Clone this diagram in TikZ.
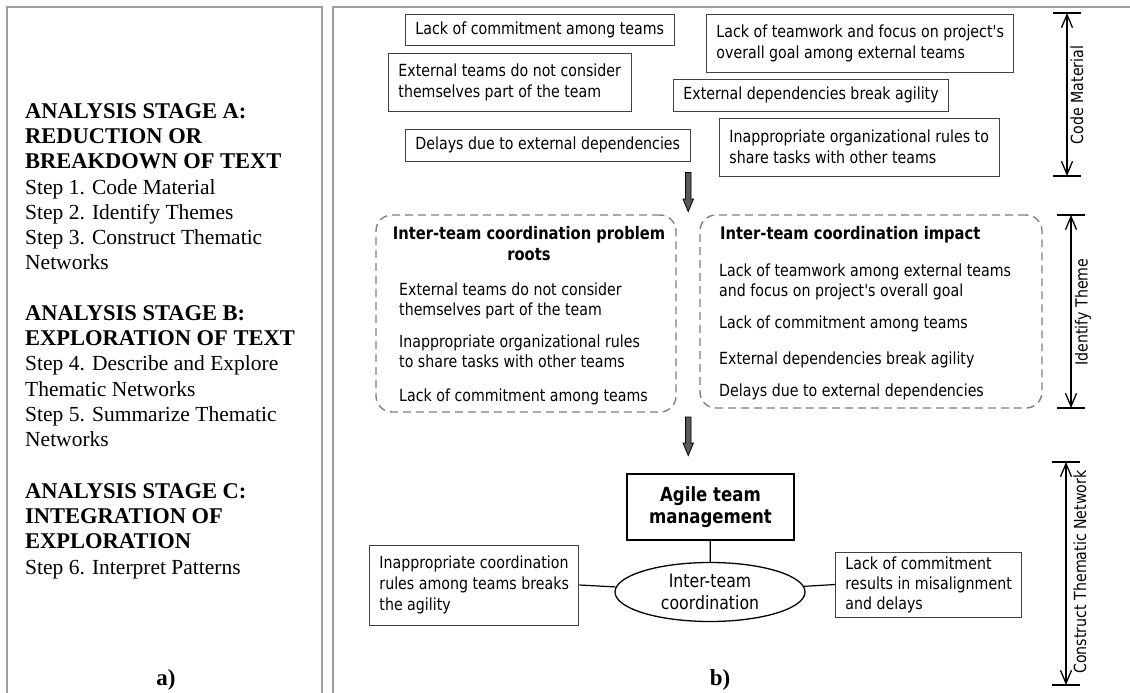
\documentclass[tikz,border=0pt]{standalone}
\usepackage{fontspec}
\setmainfont{Liberation Serif}
\newfontfamily\tahoma{DejaVu Sans}[FakeStretch=0.85]
\usetikzlibrary{arrows.meta,positioning,shapes.geometric}

\newcommand\stagehead[1]{{\fontsize{22.5}{25.3}\selectfont\bfseries #1}}

\begin{document}
\begin{tikzpicture} [x=1pt, y=-1pt,
    panel/.style={draw=gray!75, line width=2pt},
    stage/.style={anchor=north west, inner sep=0pt, align=left, font=\fontsize{21.5}{25.3}\selectfont},
    codebox/.style={draw=black!75, line width=0.9pt, anchor=west, align=left, inner xsep=10pt, inner ysep=0pt, font=\tahoma\fontsize{16.7}{21}\selectfont},
    themebox/.style={draw=gray, line width=1.4pt, dash pattern=on 8pt off 5pt, rounded corners=16pt, inner sep=0pt},
    item/.style={anchor=west, align=left, inner sep=0pt, font=\tahoma\fontsize{16.7}{20}\selectfont},
    blockarrow/.style={draw=black, fill=black!65, line width=0.8pt, line join=miter},
    dimline/.style={line width=1.3pt, {Straight Barb[length=13pt,width=11pt]}-{Straight Barb[length=13pt,width=11pt]}},
    dimbar/.style={line width=1.3pt},
    dimlabel/.style={rotate=90, inner sep=0pt, font=\tahoma\fontsize{16.7}{20}\selectfont}
  ]

\useasboundingbox (0,0) rectangle (1130,693);

% panels
\draw[panel] (7,693) |- (322,7) -- (322,693);
\draw[panel] (333,693) |- (1130,7);

% a) analysis stages
\node[stage] (stageA) at (25,103) {\stagehead{ANALYSIS STAGE A:}\\ \stagehead{REDUCTION OR}\\ \stagehead{BREAKDOWN OF TEXT}\\ Step 1. Code Material\\ Step 2. Identify Themes\\ Step 3. Construct Thematic\\ Networks};
\node[stage] (stageB) at (25,305) {\stagehead{ANALYSIS STAGE B:}\\ \stagehead{EXPLORATION OF TEXT}\\ Step 4. Describe and Explore\\ Thematic Networks\\ Step 5. Summarize Thematic\\ Networks};
\node[stage] (stageC) at (25,483) {\stagehead{ANALYSIS STAGE C:}\\ \stagehead{INTEGRATION OF}\\ \stagehead{EXPLORATION}\\ Step 6. Interpret Patterns};

\node[font=\bfseries\fontsize{23}{25}\selectfont] (capa) at (166,680) {a)};
\node[font=\bfseries\fontsize{23}{25}\selectfont] (capb) at (720,680) {b)};

% code material
\node[codebox, minimum height=31pt] (commit) at (405,29.5) {Lack of commitment among teams};
\node[codebox, minimum height=58pt] (teamwork) at (706,43) {Lack of teamwork and focus on project's\\overall goal among external teams};
\node[codebox, minimum height=58pt] (external) at (388,82) {External teams do not consider\\themselves part of the team};
\node[codebox, minimum height=32pt] (agility) at (673,95) {External dependencies break agility};
\node[codebox, minimum height=32pt] (delays) at (405,145) {Delays due to external dependencies};
\node[codebox, minimum height=58pt] (orgrules) at (719,147) {Inappropriate organizational rules to\\share tasks with other teams};

\draw[blockarrow] (685.5,172.5) -- (691,172.5) -- (691,199) -- (693.5,199) -- (688.2,211.5) -- (683,199) -- (685.5,199) -- cycle;

% identify theme
\node[themebox, minimum width=300pt, minimum height=197pt] (roots) at (526,313.5) {};
\node[themebox, minimum width=342pt, minimum height=193pt] (impact) at (871,311.5) {};

\node[align=center, inner sep=0pt, font=\tahoma\bfseries\fontsize{17.3}{21}\selectfont] (rootstitle) at (529,243.5) {Inter-team coordination problem\\roots};
\node[anchor=west, inner sep=0pt, font=\tahoma\bfseries\fontsize{17.3}{21}\selectfont] (impacttitle) at (720,235) {Inter-team coordination impact};

\node[item] (roota) at (399,301) {External teams do not consider\\themselves part of the team};
\node[item] (rootb) at (399,351.5) {Inappropriate organizational rules\\to share tasks with other teams};
\node[item] (rootc) at (399,397) {Lack of commitment among teams};

\node[item] (impa) at (719,282) {Lack of teamwork among external teams\\and focus on project's overall goal};
\node[item] (impb) at (719,324) {Lack of commitment among teams};
\node[item] (impc) at (719,360) {External dependencies break agility};
\node[item] (impd) at (719,392) {Delays due to external dependencies};

\draw[blockarrow] (685.5,417) -- (691,417) -- (691,443) -- (693.5,443) -- (688.2,455.5) -- (683,443) -- (685.5,443) -- cycle;

% construct thematic network
\node[draw, line width=1.6pt, align=center, minimum width=167pt, minimum height=66pt, font=\tahoma\bfseries\fontsize{19.5}{22}\selectfont] (agile) at (710.5,507) {Agile team\\management};
\node[ellipse, draw, line width=1.3pt, align=center, inner sep=0pt, minimum width=190pt, minimum height=59pt, font=\tahoma\fontsize{18.5}{22}\selectfont] (coord) at (710,592) {Inter-team\\coordination};
\node[codebox, minimum height=80pt] (coordrules) at (369,585) {Inappropriate coordination\\rules among teams breaks\\the agility};
\node[codebox, minimum height=65pt, font=\tahoma\fontsize{16.7}{20}\selectfont] (misalign) at (835,584.5) {Lack of commitment\\results in misalignment\\and delays};

\draw[line width=1.2pt] (agile) -- (coord);
\draw[line width=1.2pt] (coordrules.east) -- (coord);
\draw[line width=1.2pt] (coord) -- (misalign.west);

% stage dimensions
\coordinate (cmtop) at (1067,13);
\coordinate (cmbot) at (1067,176);
\coordinate (ittop) at (1071,215);
\coordinate (itbot) at (1071,408);
\coordinate (cttop) at (1066,462);
\coordinate (ctbot) at (1066,685);

\draw[dimline] (cmtop) -- (cmbot);
\draw[dimline] (ittop) -- (itbot);
\draw[dimline] (cttop) -- (ctbot);
\foreach \c in {cmtop,cmbot,ittop,itbot,cttop,ctbot}
  \draw[dimbar] (\c) ++(-14,0) -- ++(28,0);

\node[dimlabel] (cmlabel) at (1077,95) {Code Material};
\node[dimlabel] (itlabel) at (1083,312) {Identify Theme};
\node[dimlabel] (ctlabel) at (1080,572) {Construct Thematic Network};

\end{tikzpicture}
\end{document}
